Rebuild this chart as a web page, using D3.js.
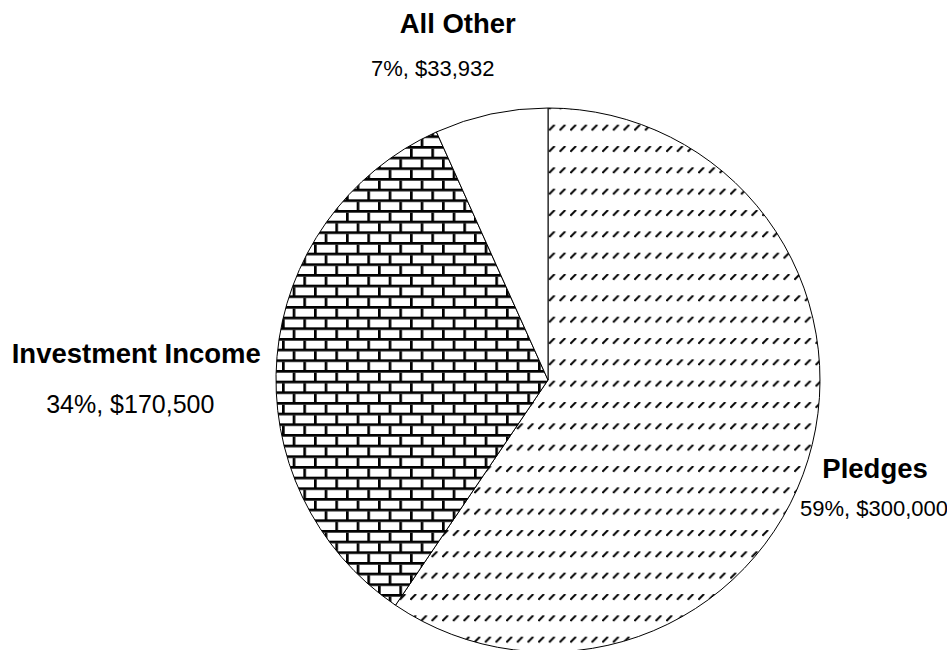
<html lang="en">
<head>
<style>
    body { margin: 0; background: #fff; }
    text { font-family: "Liberation Sans", Arial, sans-serif; fill: #000; }
</style>
</head>
<body>
</body>
<script type='text/javascript' src='https://d3js.org/d3.v7.min.js'></script>
<script>
    // data
    var categories = ["Pledges", "Investment Income", "All Other"];
    var amounts = [300000, 170500, 33932];
    var fills = ["url(#dashes)", "url(#bricks)", "#fff"];

    // where the labels sit, as nudges from a point just outside each slice
    var titleNudge = [[2, -2], [-73, 12], [-19, -15]];
    var valueNudge = [[1, 36], [-79, 62], [-44, 28]];
    var valueSize = [22, 25, 22];

    var width = 947,
        height = 650,
        radius = 272,
        cx = 548,
        cy = 380;

    var svg = d3.select("body").append("svg")
        .attr("width", width)
        .attr("height", height);

    // fill patterns, an old 8x8 bitmap blown up by 8/3
    var u = 8 / 3;
    var defs = svg.append("defs");

    var dash = defs.append("pattern")
        .attr("id", "dashes")
        .attr("patternUnits", "userSpaceOnUse")
        .attr("x", 0.67).attr("y", 0.67)
        .attr("width", 4 * u).attr("height", 8 * u);
    dash.append("rect").attr("width", 4 * u).attr("height", 8 * u).attr("fill", "#fff");
    dash.append("path")
        .attr("d", "M0.5,5.5L6,0")
        .attr("stroke", "#000")
        .attr("stroke-width", 2);

    var brick = defs.append("pattern")
        .attr("id", "bricks")
        .attr("patternUnits", "userSpaceOnUse")
        .attr("x", 0.67).attr("y", 0.67)
        .attr("width", 8 * u).attr("height", 8 * u);
    brick.append("rect").attr("width", 8 * u).attr("height", 8 * u).attr("fill", "#fff");
    brick.append("rect").attr("y", 0).attr("width", 8 * u).attr("height", u).attr("fill", "#000");
    brick.append("rect").attr("y", 4 * u).attr("width", 8 * u).attr("height", u).attr("fill", "#000");
    brick.append("rect").attr("x", 4 * u).attr("y", u).attr("width", u).attr("height", 3 * u).attr("fill", "#000");
    brick.append("rect").attr("x", 0).attr("y", 5 * u).attr("width", u).attr("height", 3 * u).attr("fill", "#000");

    var pie = d3.pie().sort(null);
    var arc = d3.arc().innerRadius(0).outerRadius(radius);
    var labelArc = d3.arc().innerRadius(radius * 1.25).outerRadius(radius * 1.25);

    var total = d3.sum(amounts);
    var money = d3.format("$,");

    var g = svg.append("g")
        .attr("transform", "translate(" + cx + "," + cy + ")");

    var slices = pie(amounts);

    g.selectAll("path")
        .data(slices)
        .enter().append("path")
        .attr("d", arc)
        .attr("fill", function (d, i) { return fills[i]; })
        .attr("stroke", "#000")
        .attr("stroke-width", 1);

    var labels = g.selectAll("g.label")
        .data(slices)
        .enter().append("g")
        .attr("class", "label");

    labels.append("text")
        .attr("x", function (d, i) { return labelArc.centroid(d)[0] + titleNudge[i][0]; })
        .attr("y", function (d, i) { return labelArc.centroid(d)[1] + titleNudge[i][1]; })
        .attr("text-anchor", "middle")
        .attr("font-size", 27.5)
        .attr("font-weight", "bold")
        .text(function (d, i) { return categories[i]; });

    labels.append("text")
        .attr("x", function (d, i) { return labelArc.centroid(d)[0] + valueNudge[i][0]; })
        .attr("y", function (d, i) { return labelArc.centroid(d)[1] + valueNudge[i][1]; })
        .attr("text-anchor", "middle")
        .attr("font-size", function (d, i) { return valueSize[i]; })
        .text(function (d) {
            return Math.round(d.value / total * 100) + "%, " + money(d.value);
        });
</script>
</html>
